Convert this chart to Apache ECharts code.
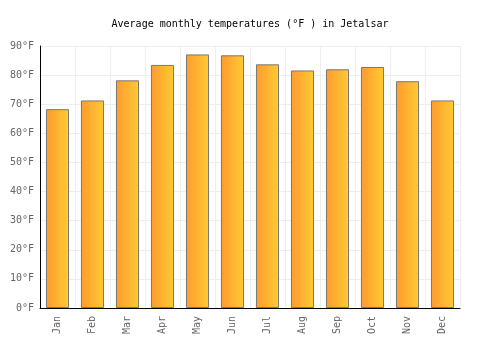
<!DOCTYPE html>
<html>
<head>
<meta charset="utf-8">
<script src="https://cdn.jsdelivr.net/npm/echarts@6/dist/echarts.min.js"></script>
<style>
  html, body { margin: 0; padding: 0; background: #fff; }
  #main { width: 500px; height: 350px; }
</style>
</head>
<body>
<div id="main"></div>
<script>
var months = ['Jan', 'Feb', 'Mar', 'Apr', 'May', 'Jun', 'Jul', 'Aug', 'Sep', 'Oct', 'Nov', 'Dec'];
var temps = [68.3, 71.3, 78.2, 83.5, 87.1, 86.8, 83.7, 81.6, 82.0, 82.8, 77.9, 71.3];

var myChart = echarts.init(document.getElementById('main'));

var option = {
    animation: false,
    title: {
        text: 'Average monthly temperatures (°F ) in Jetalsar',
        left: 'center',
        top: 14,
        textStyle: {
            fontFamily: 'DejaVu Sans Mono',
            fontSize: 10,
            fontWeight: 'normal',
            color: '#000'
        }
    },
    grid: {
        left: 40,
        right: 40,
        top: 46,
        bottom: 42
    },
    xAxis: {
        type: 'category',
        data: months,
        axisLine: { lineStyle: { color: '#000', width: 1 } },
        axisTick: { show: false },
        splitLine: { show: true, lineStyle: { color: '#eee' } },
        axisLabel: {
            rotate: 90,
            color: '#666',
            fontFamily: 'DejaVu Sans Mono',
            fontSize: 10,
            margin: 8
        }
    },
    yAxis: {
        type: 'value',
        min: 0,
        max: 90,
        interval: 10,
        axisLine: { show: true, lineStyle: { color: '#000', width: 1 } },
        axisTick: { show: false },
        splitLine: { lineStyle: { color: '#eee' } },
        axisLabel: {
            formatter: '{value}°F',
            color: '#666',
            fontFamily: 'DejaVu Sans Mono',
            fontSize: 10,
            margin: 6
        }
    },
    series: [
        {
            type: 'bar',
            data: temps,
            barWidth: '66%',
            itemStyle: {
                color: new echarts.graphic.LinearGradient(0, 0, 1, 0, [
                    { offset: 0, color: '#ff9a2e' },
                    { offset: 1, color: '#ffcb33' }
                ]),
                borderColor: '#777',
                borderWidth: 1
            }
        }
    ]
};

myChart.setOption(option);
</script>
</body>
</html>
